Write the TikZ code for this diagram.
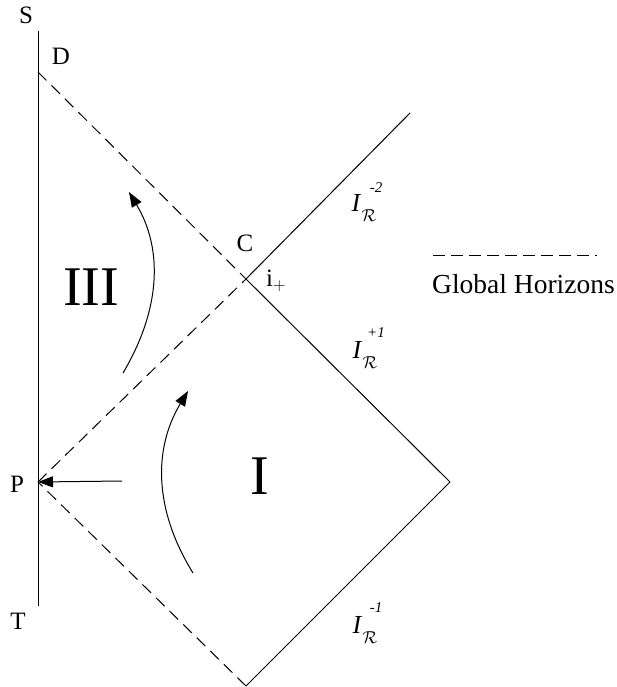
\documentclass[tikz,border=0pt]{standalone}
\usepackage{fontspec}
\setmainfont{Liberation Serif}
\usetikzlibrary{arrows.meta}
\tikzset{
  line/.style={line width=1pt, line cap=butt},
  horizon/.style={line, dash pattern=on 12pt off 7pt},
  flow/.style={line, -{Triangle[length=15pt,width=11pt]}},
  lbl/.style={inner sep=0pt, font=\fontsize{25}{28}\selectfont},
  big/.style={inner sep=0pt, font=\fontsize{56}{60}\selectfont},
  scri/.style={inner sep=0pt, font=\fontsize{26}{28}\selectfont\itshape},
  scrsub/.style={inner sep=0pt, font=\fontsize{18}{20}\selectfont},
  scrsup/.style={inner sep=0pt, font=\fontsize{15}{16}\selectfont\itshape},
}
\begin{document}
\begin{tikzpicture}[x=1pt,y=-1pt]
\useasboundingbox (0,0) rectangle (616,687);
% vertices
\coordinate (Stop) at (38,31);
\coordinate (Tbot) at (38,606);
\coordinate (D) at (38,72);
\coordinate (P) at (38,482);
\coordinate (C) at (246,279);
\coordinate (U) at (410,113);
\coordinate (R) at (450,482);
\coordinate (B) at (246,686);
% boundary lines
\draw[line] (Stop) -- (Tbot);
\draw[horizon] (D) -- (C);
\draw[horizon] (P) -- (C);
\draw[horizon] (B) -- (P);
\draw[line] (C) -- (U);
\draw[line] (C) -- (R);
\draw[line] (R) -- (B);
% labels
\node[lbl] (lS) at (26,15) {S};
\node[lbl] (lD) at (61,56) {D};
\node[lbl] (lT) at (18,621) {T};
\node[lbl] (lP) at (17,484) {P};
\node[lbl] (lC) at (245,243) {C};
\node[lbl, anchor=west] (li) at (266,281) {i$_{+}$};
\node[big] (lIII) at (91,287) {III};
\node[big] (lI) at (260,476) {I};
% scri labels
\node[scri] (s2I) at (356,203) {I};
\node[scrsub] (s2R) at (369,216) {$\mathcal{R}$};
\node[scrsup] (s2s) at (376,188) {-2};
\node[scri] (s1pI) at (357,350) {I};
\node[scrsub] (s1pR) at (370,363) {$\mathcal{R}$};
\node[scrsup] (s1ps) at (376,333) {+1};
\node[scri] (s1mI) at (357,625) {I};
\node[scrsub] (s1mR) at (370,638) {$\mathcal{R}$};
\node[scrsup] (s1ms) at (376,608) {-1};
% arrows
\coordinate (a1s) at (123,373);
\coordinate (a1e) at (129,192);
\draw[flow] (a1s) .. controls (161,309) and (163,249) .. (a1e);
\coordinate (a2s) at (193,573);
\coordinate (a2e) at (188,391);
\draw[flow] (a2s) .. controls (154,510) and (153,449) .. (a2e);
\coordinate (a3s) at (122,481);
\draw[flow] (a3s) -- (P);
% legend
\coordinate (g1) at (433,255);
\coordinate (g2) at (597,255);
\draw[line, dash pattern=on 12pt off 6pt] (g1) -- (g2);
\node[inner sep=0pt, anchor=west, font=\fontsize{27.5}{30}\selectfont] (gh) at (432,284) {Global Horizons};
\end{tikzpicture}
\end{document}
